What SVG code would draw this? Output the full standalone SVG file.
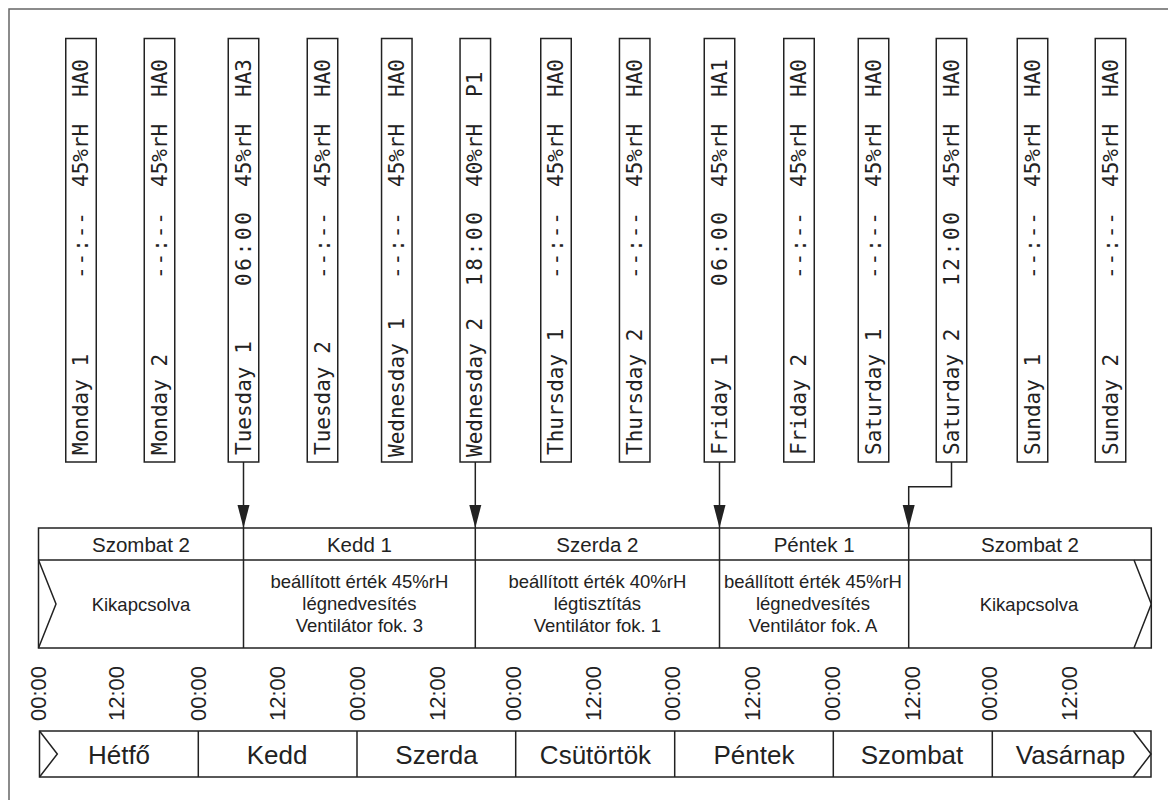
<svg xmlns="http://www.w3.org/2000/svg" width="1168" height="800" viewBox="0 0 1168 800">
<defs>
<style>
.ln{fill:none;stroke:#222;stroke-width:1.5}
.bx{fill:#fff;stroke:#222;stroke-width:1.5}
.mono{font-family:"DejaVu Sans Mono",monospace;font-size:21px;fill:#222}
.hd{font-family:"Liberation Sans",Arial,sans-serif;font-size:20.5px;fill:#222;text-anchor:middle}
.bd{font-family:"Liberation Sans",Arial,sans-serif;font-size:18.5px;fill:#222;text-anchor:middle}
.tm{font-family:"Liberation Sans",Arial,sans-serif;font-size:22px;fill:#222}
.dy{font-family:"Liberation Sans",Arial,sans-serif;font-size:26px;fill:#222;text-anchor:middle}
</style>
<marker id="ah" markerUnits="userSpaceOnUse" markerWidth="24" markerHeight="14" viewBox="0 0 24 14" refX="23" refY="7" orient="auto">
<path d="M0,1 L23,7 L0,13 Z" fill="#222"/>
</marker>
</defs>
<rect width="1168" height="800" fill="#fff"/>
<path d="M9,800 V9 H1168" fill="none" stroke="#666" stroke-width="1.5"/>

<g id="programs">
<g id="p-mon1"><rect class="bx" x="65.75" y="38.5" width="30.5" height="423.5"/><g class="mono" transform="translate(88,0)"><text transform="translate(0,455) rotate(-90)">Monday 1</text><text transform="translate(0,279) rotate(-90)" textLength="67">--:--</text><text transform="translate(0,187) rotate(-90)">45%rH</text><text transform="translate(0,97) rotate(-90)">HA0</text></g></g>
<g id="p-mon2"><rect class="bx" x="144.25" y="38.5" width="30.5" height="423.5"/><g class="mono" transform="translate(166.5,0)"><text transform="translate(0,455) rotate(-90)">Monday 2</text><text transform="translate(0,279) rotate(-90)" textLength="67">--:--</text><text transform="translate(0,187) rotate(-90)">45%rH</text><text transform="translate(0,97) rotate(-90)">HA0</text></g></g>
<g id="p-tue1"><rect class="bx" x="228.25" y="38.5" width="30.5" height="423.5"/><g class="mono" transform="translate(250.5,0)"><text transform="translate(0,455) rotate(-90)">Tuesday 1</text><text transform="translate(0,286) rotate(-90)" textLength="74">06:00</text><text transform="translate(0,187) rotate(-90)">45%rH</text><text transform="translate(0,97) rotate(-90)">HA3</text></g></g>
<g id="p-tue2"><rect class="bx" x="307.25" y="38.5" width="30.5" height="423.5"/><g class="mono" transform="translate(329.5,0)"><text transform="translate(0,455) rotate(-90)">Tuesday 2</text><text transform="translate(0,279) rotate(-90)" textLength="67">--:--</text><text transform="translate(0,187) rotate(-90)">45%rH</text><text transform="translate(0,97) rotate(-90)">HA0</text></g></g>
<g id="p-wed1"><rect class="bx" x="381.55" y="38.5" width="30.5" height="423.5"/><g class="mono" transform="translate(403.8,0)"><text transform="translate(0,457) rotate(-90)">Wednesday 1</text><text transform="translate(0,279) rotate(-90)" textLength="67">--:--</text><text transform="translate(0,187) rotate(-90)">45%rH</text><text transform="translate(0,97) rotate(-90)">HA0</text></g></g>
<g id="p-wed2"><rect class="bx" x="460.05" y="38.5" width="30.5" height="423.5"/><g class="mono" transform="translate(482.3,0)"><text transform="translate(0,457) rotate(-90)">Wednesday 2</text><text transform="translate(0,286) rotate(-90)" textLength="74">18:00</text><text transform="translate(0,187) rotate(-90)">40%rH</text><text transform="translate(0,97) rotate(-90)">P1</text></g></g>
<g id="p-thu1"><rect class="bx" x="540.75" y="38.5" width="30.5" height="423.5"/><g class="mono" transform="translate(563,0)"><text transform="translate(0,455) rotate(-90)">Thursday 1</text><text transform="translate(0,279) rotate(-90)" textLength="67">--:--</text><text transform="translate(0,187) rotate(-90)">45%rH</text><text transform="translate(0,97) rotate(-90)">HA0</text></g></g>
<g id="p-thu2"><rect class="bx" x="619.45" y="38.5" width="30.5" height="423.5"/><g class="mono" transform="translate(641.7,0)"><text transform="translate(0,455) rotate(-90)">Thursday 2</text><text transform="translate(0,279) rotate(-90)" textLength="67">--:--</text><text transform="translate(0,187) rotate(-90)">45%rH</text><text transform="translate(0,97) rotate(-90)">HA0</text></g></g>
<g id="p-fri1"><rect class="bx" x="704.25" y="38.5" width="30.5" height="423.5"/><g class="mono" transform="translate(726.5,0)"><text transform="translate(0,455) rotate(-90)">Friday 1</text><text transform="translate(0,286) rotate(-90)" textLength="74">06:00</text><text transform="translate(0,187) rotate(-90)">45%rH</text><text transform="translate(0,97) rotate(-90)">HA1</text></g></g>
<g id="p-fri2"><rect class="bx" x="783.75" y="38.5" width="30.5" height="423.5"/><g class="mono" transform="translate(806,0)"><text transform="translate(0,455) rotate(-90)">Friday 2</text><text transform="translate(0,279) rotate(-90)" textLength="67">--:--</text><text transform="translate(0,187) rotate(-90)">45%rH</text><text transform="translate(0,97) rotate(-90)">HA0</text></g></g>
<g id="p-sat1"><rect class="bx" x="858.25" y="38.5" width="30.5" height="423.5"/><g class="mono" transform="translate(880.5,0)"><text transform="translate(0,455) rotate(-90)">Saturday 1</text><text transform="translate(0,279) rotate(-90)" textLength="67">--:--</text><text transform="translate(0,187) rotate(-90)">45%rH</text><text transform="translate(0,97) rotate(-90)">HA0</text></g></g>
<g id="p-sat2"><rect class="bx" x="936.25" y="38.5" width="30.5" height="423.5"/><g class="mono" transform="translate(958.5,0)"><text transform="translate(0,455) rotate(-90)">Saturday 2</text><text transform="translate(0,286) rotate(-90)" textLength="74">12:00</text><text transform="translate(0,187) rotate(-90)">45%rH</text><text transform="translate(0,97) rotate(-90)">HA0</text></g></g>
<g id="p-sun1"><rect class="bx" x="1017.25" y="38.5" width="30.5" height="423.5"/><g class="mono" transform="translate(1039.5,0)"><text transform="translate(0,455) rotate(-90)">Sunday 1</text><text transform="translate(0,279) rotate(-90)" textLength="67">--:--</text><text transform="translate(0,187) rotate(-90)">45%rH</text><text transform="translate(0,97) rotate(-90)">HA0</text></g></g>
<g id="p-sun2"><rect class="bx" x="1095.25" y="38.5" width="30.5" height="423.5"/><g class="mono" transform="translate(1117.5,0)"><text transform="translate(0,455) rotate(-90)">Sunday 2</text><text transform="translate(0,279) rotate(-90)" textLength="67">--:--</text><text transform="translate(0,187) rotate(-90)">45%rH</text><text transform="translate(0,97) rotate(-90)">HA0</text></g></g>
</g>

<g id="connectors">
<path class="ln" d="M243.5,462 V528" marker-end="url(#ah)"/>
<path class="ln" d="M475.3,462 V528" marker-end="url(#ah)"/>
<path class="ln" d="M719.5,462 V528" marker-end="url(#ah)"/>
<path class="ln" d="M951.5,462 V486.7 H908.7 V528" marker-end="url(#ah)"/>
</g>

<g id="schedule">
<rect class="ln" x="38.5" y="528" width="1112.8" height="120"/>
<path class="ln" d="M38.5,560 H1151.3 M243.5,528 V648 M475.3,528 V648 M719.5,528 V648 M908.7,528 V648"/>
<path class="ln" d="M38.5,560 L56,604 L38.5,648 M1134,560 L1151.3,604 L1134,648"/>
<g id="s-sat2a"><text class="hd" x="141" y="551.5">Szombat 2</text><text class="bd" x="141" y="611">Kikapcsolva</text></g>
<g id="s-tue1"><text class="hd" x="359.4" y="551.5">Kedd 1</text><text class="bd" x="359.4" y="588">beállított érték 45%rH</text><text class="bd" x="359.4" y="610">légnedvesítés</text><text class="bd" x="359.4" y="632">Ventilátor fok. 3</text></g>
<g id="s-wed2"><text class="hd" x="597.4" y="551.5">Szerda 2</text><text class="bd" x="597.4" y="588">beállított érték 40%rH</text><text class="bd" x="597.4" y="610">légtisztítás</text><text class="bd" x="597.4" y="632">Ventilátor fok. 1</text></g>
<g id="s-fri1"><text class="hd" x="814.1" y="551.5">Péntek 1</text><text class="bd" x="813" y="588">beállított érték 45%rH</text><text class="bd" x="813" y="610">légnedvesítés</text><text class="bd" x="813" y="632">Ventilátor fok. A</text></g>
<g id="s-sat2b"><text class="hd" x="1030" y="551.5">Szombat 2</text><text class="bd" x="1029" y="611">Kikapcsolva</text></g>
</g>

<g id="timeaxis" class="tm">
<text transform="translate(46.3,721) rotate(-90)">00:00</text>
<text transform="translate(123.5,721) rotate(-90)">12:00</text>
<text transform="translate(206,721) rotate(-90)">00:00</text>
<text transform="translate(284.5,721) rotate(-90)">12:00</text>
<text transform="translate(364.5,721) rotate(-90)">00:00</text>
<text transform="translate(444.5,721) rotate(-90)">12:00</text>
<text transform="translate(521,721) rotate(-90)">00:00</text>
<text transform="translate(601,721) rotate(-90)">12:00</text>
<text transform="translate(679.5,721) rotate(-90)">00:00</text>
<text transform="translate(759.5,721) rotate(-90)">12:00</text>
<text transform="translate(839.5,721) rotate(-90)">00:00</text>
<text transform="translate(919.5,721) rotate(-90)">12:00</text>
<text transform="translate(997,721) rotate(-90)">00:00</text>
<text transform="translate(1077,721) rotate(-90)">12:00</text>
</g>

<g id="days">
<rect class="ln" x="39.5" y="731" width="1111.5" height="46"/>
<path class="ln" d="M198.3,731 V777 M357,731 V777 M515.7,731 V777 M674.7,731 V777 M833.3,731 V777 M992.3,731 V777"/>
<path class="ln" d="M39.5,731 L57.3,754 L39.5,777 M1133.3,731 L1151,754 L1133.3,777"/>
<text class="dy" x="119" y="764">Hétfő</text>
<text class="dy" x="277" y="764">Kedd</text>
<text class="dy" x="436.5" y="764">Szerda</text>
<text class="dy" x="595.5" y="764">Csütörtök</text>
<text class="dy" x="754" y="764">Péntek</text>
<text class="dy" x="912" y="764">Szombat</text>
<text class="dy" x="1070.5" y="764">Vasárnap</text>
</g>
</svg>
